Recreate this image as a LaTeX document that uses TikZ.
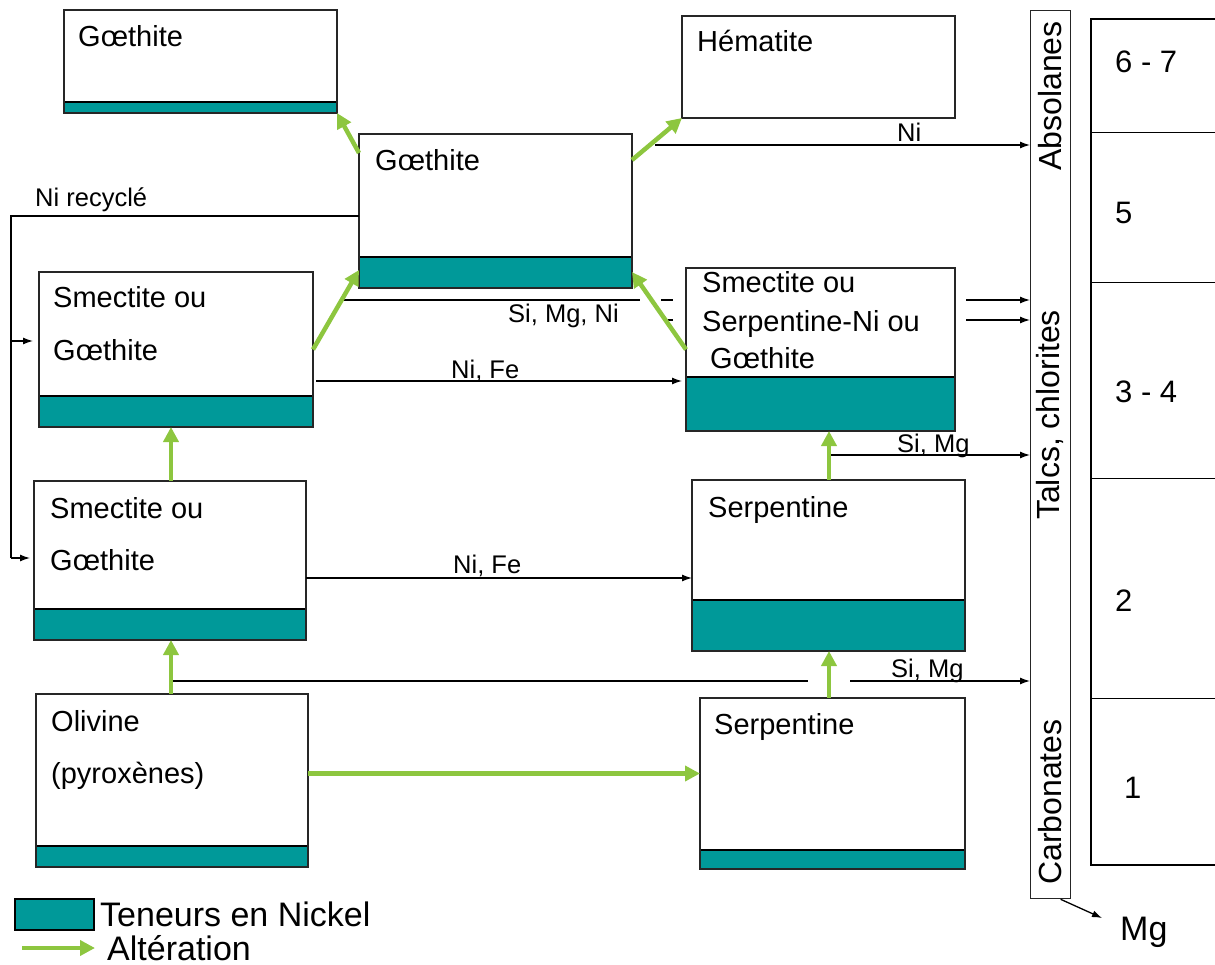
\documentclass[tikz,border=0pt]{standalone}
\usepackage{fontspec}
\setmainfont{Liberation Sans}
\usetikzlibrary{arrows.meta,calc}
\definecolor{nickel}{RGB}{0,153,153}
\definecolor{altgreen}{RGB}{141,198,63}
\tikzset{
  boxshape/.style={rectangle, draw=black!85, line width=1.3pt, fill=white, inner sep=0pt, outer sep=0pt},
  boxline/.style={draw=black!85, line width=1.3pt},
  bandline/.style={draw=black, line width=2pt},
  alt/.style={draw=altgreen, line width=4.5pt, -{Triangle[length=15pt,width=15pt]}},
  flow/.style={draw=black, line width=1.3pt, -{Latex[length=10pt,width=7pt]}},
  plainline/.style={draw=black, line width=1.3pt},
  boxtext/.style={anchor=base west, inner sep=0pt, font=\fontsize{29}{34}\selectfont},
  lbl/.style={anchor=base west, inner sep=0pt, font=\fontsize{25.5}{30}\selectfont},
  sidelbl/.style={rotate=90, inner sep=0pt, font=\fontsize{32}{38}\selectfont},
  numlbl/.style={anchor=base west, inner sep=0pt, font=\fontsize{31}{36}\selectfont},
  legtext/.style={anchor=base west, inner sep=0pt, font=\fontsize{34}{40}\selectfont},
}
% #1 name, #2 x, #3 y, #4 width, #5 height, #6 nickel band height
\newcommand{\mineralbox}[6]{%
  \node[boxshape, minimum width=#4pt, minimum height=#5pt, anchor=north west] (#1) at (#2,#3) {};
  \fill[nickel] (#1.south west) rectangle ([yshift=#6pt]#1.south east);
  \draw[bandline] ([yshift=#6pt]#1.south west) -- ([yshift=#6pt]#1.south east);
  \draw[boxline] (#1.south west) rectangle (#1.north east);
}
\begin{document}
\begin{tikzpicture}[x=1pt, y=-1pt]
\useasboundingbox (0,0) rectangle (1215,965);

% ---------- boxes ----------
\mineralbox{gA}{64}{10}{273}{103}{11}
\node[boxshape, minimum width=273pt, minimum height=102pt, anchor=north west] (hem) at (682,16) {};
\mineralbox{gC}{359}{134}{273}{154}{31}
\mineralbox{sA}{39}{272}{274}{155}{31}
\mineralbox{sS}{686}{268}{269}{163}{54}
\mineralbox{sB}{34}{481}{272}{159}{31}
\mineralbox{serpM}{692}{480}{273}{171}{51}
\mineralbox{ol}{36}{694}{272}{173}{21}
\mineralbox{serpB}{700}{698}{265}{171}{19}

% ---------- box texts ----------
\node[boxtext] (tgA) at (78,47) {Gœthite};
\node[boxtext] (them) at (697,52) {Hématite};
\node[boxtext] (tgC) at (375,171) {Gœthite};
\node[boxtext] (tsA1) at (53,308) {Smectite ou};
\node[boxtext] (tsA2) at (53,360) {Gœthite};
\node[boxtext] (tsS1) at (702,293) {Smectite ou};
\node[boxtext] (tsS2) at (702,332) {Serpentine-Ni ou};
\node[boxtext] (tsS3) at (710,369) {Gœthite};
\node[boxtext] (tsB1) at (50,518) {Smectite ou};
\node[boxtext] (tsB2) at (50,570) {Gœthite};
\node[boxtext] (tserpM) at (708,517) {Serpentine};
\node[boxtext] (tol1) at (51,731) {Olivine};
\node[boxtext] (tol2) at (51,783) {(pyroxènes)};
\node[boxtext] (tserpB) at (714,734) {Serpentine};

% ---------- right column ----------
\node[rectangle, draw=black!85, line width=1.3pt, minimum width=40pt, minimum height=888pt, anchor=north west, inner sep=0pt] (rc) at (1030,10) {};
\node[sidelbl] (lAbs) at (1050,96) {Absolanes};
\node[sidelbl] (lTal) at (1050,415) {Talcs, chlorites};
\node[sidelbl] (lCar) at (1050,802) {Carbonates};

\node[rectangle, draw=black, line width=1.8pt, minimum width=135pt, minimum height=846pt, anchor=north west, inner sep=0pt] (nb) at (1090,18) {};
\foreach \yy in {133,283,478,698} \draw[black, line width=1pt] (nb.west |- 0,\yy) -- (1216,\yy);
\node[numlbl] (n67) at (1115,73) {6 - 7};
\node[numlbl] (n5) at (1115,224) {5};
\node[numlbl] (n34) at (1115,402) {3 - 4};
\node[numlbl] (n2) at (1115,611) {2};
\node[numlbl] (n1) at (1124,798) {1};

\node[legtext] (mg) at (1120,940) {Mg};
\draw[flow] ([xshift=10pt]rc.south) -- (1102,918);

% ---------- black flows ----------
\draw[flow] (655,145) coordinate (niS) -- (niS -| rc.west);
\node[lbl] (lNi) at (897,142) {Ni};

\draw[plainline] (gC.west |- 0,216) -- (11,216) -- (11,558);
\draw[flow, shorten >=4pt] (11,558) -- (sB.west |- 0,558);
\draw[flow, shorten >=6pt] (11,341) -- (sA.west |- 0,341);
\node[lbl] (lrec) at (35,207) {Ni recyclé};

\draw[plainline] (343,300) -- (640,300);
\draw[plainline] (661,300) -- (673,300);
\draw[plainline] (668,320) -- (673,320);
\draw[flow] (966,300) -- (rc.west |- 0,300);
\draw[flow] (966,320) -- (rc.west |- 0,320);
\node[lbl] (lsmn) at (508,323) {Si, Mg, Ni};

\draw[flow, shorten >=4pt] ([xshift=3pt]sA.east |- 0,381) -- (sS.west |- 0,381);
\node[lbl] (lnf1) at (451,378) {Ni, Fe};
\draw[flow] (sB.east |- 0,578) -- (serpM.west |- 0,578);
\node[lbl] (lnf2) at (453,573) {Ni, Fe};

\draw[flow] (serpM.north |- 0,455) -- (rc.west |- 0,455);
\node[lbl] (lsm1) at (897,452) {Si, Mg};
\draw[plainline] (171,681) -- (808,681);
\draw[flow] (850,681) -- (rc.west |- 0,681);
\node[lbl] (lsm2) at (891,677) {Si, Mg};

% ---------- alteration arrows ----------
\draw[alt] ([yshift=-19pt]gC.north west) -- (gA.south east);
\draw[alt] ([yshift=-26pt]gC.north east) -- (hem.south west);
\draw[alt] (sA.east) -- ([yshift=18pt]gC.south west);
\draw[alt] (sS.west) -- ([yshift=16pt]gC.south east);
\draw[alt] (sB.north -| 171,0) -- (171,0 |- sA.south);
\draw[alt] (ol.north -| 171,0) -- (171,0 |- sB.south);
\draw[alt] ([yshift=7pt]ol.east) -- ([yshift=7pt]ol.east -| serpB.west);
\draw[alt] (829,0 |- serpB.north) -- (829,0 |- serpM.south);
\draw[alt] (829,0 |- serpM.north) -- (829,0 |- sS.south);

% ---------- legend ----------
\node[rectangle, draw=black, line width=1.8pt, fill=nickel, minimum width=79pt, minimum height=31pt, anchor=north west, inner sep=0pt] (legbox) at (14,898) {};
\node[legtext] (legt1) at (100,926) {Teneurs en Nickel};
\coordinate (legA) at (22,948);
\draw[alt] (legA) -- (95,948);
\node[legtext] (legt2) at (107,960) {Altération};
\end{tikzpicture}
\end{document}
